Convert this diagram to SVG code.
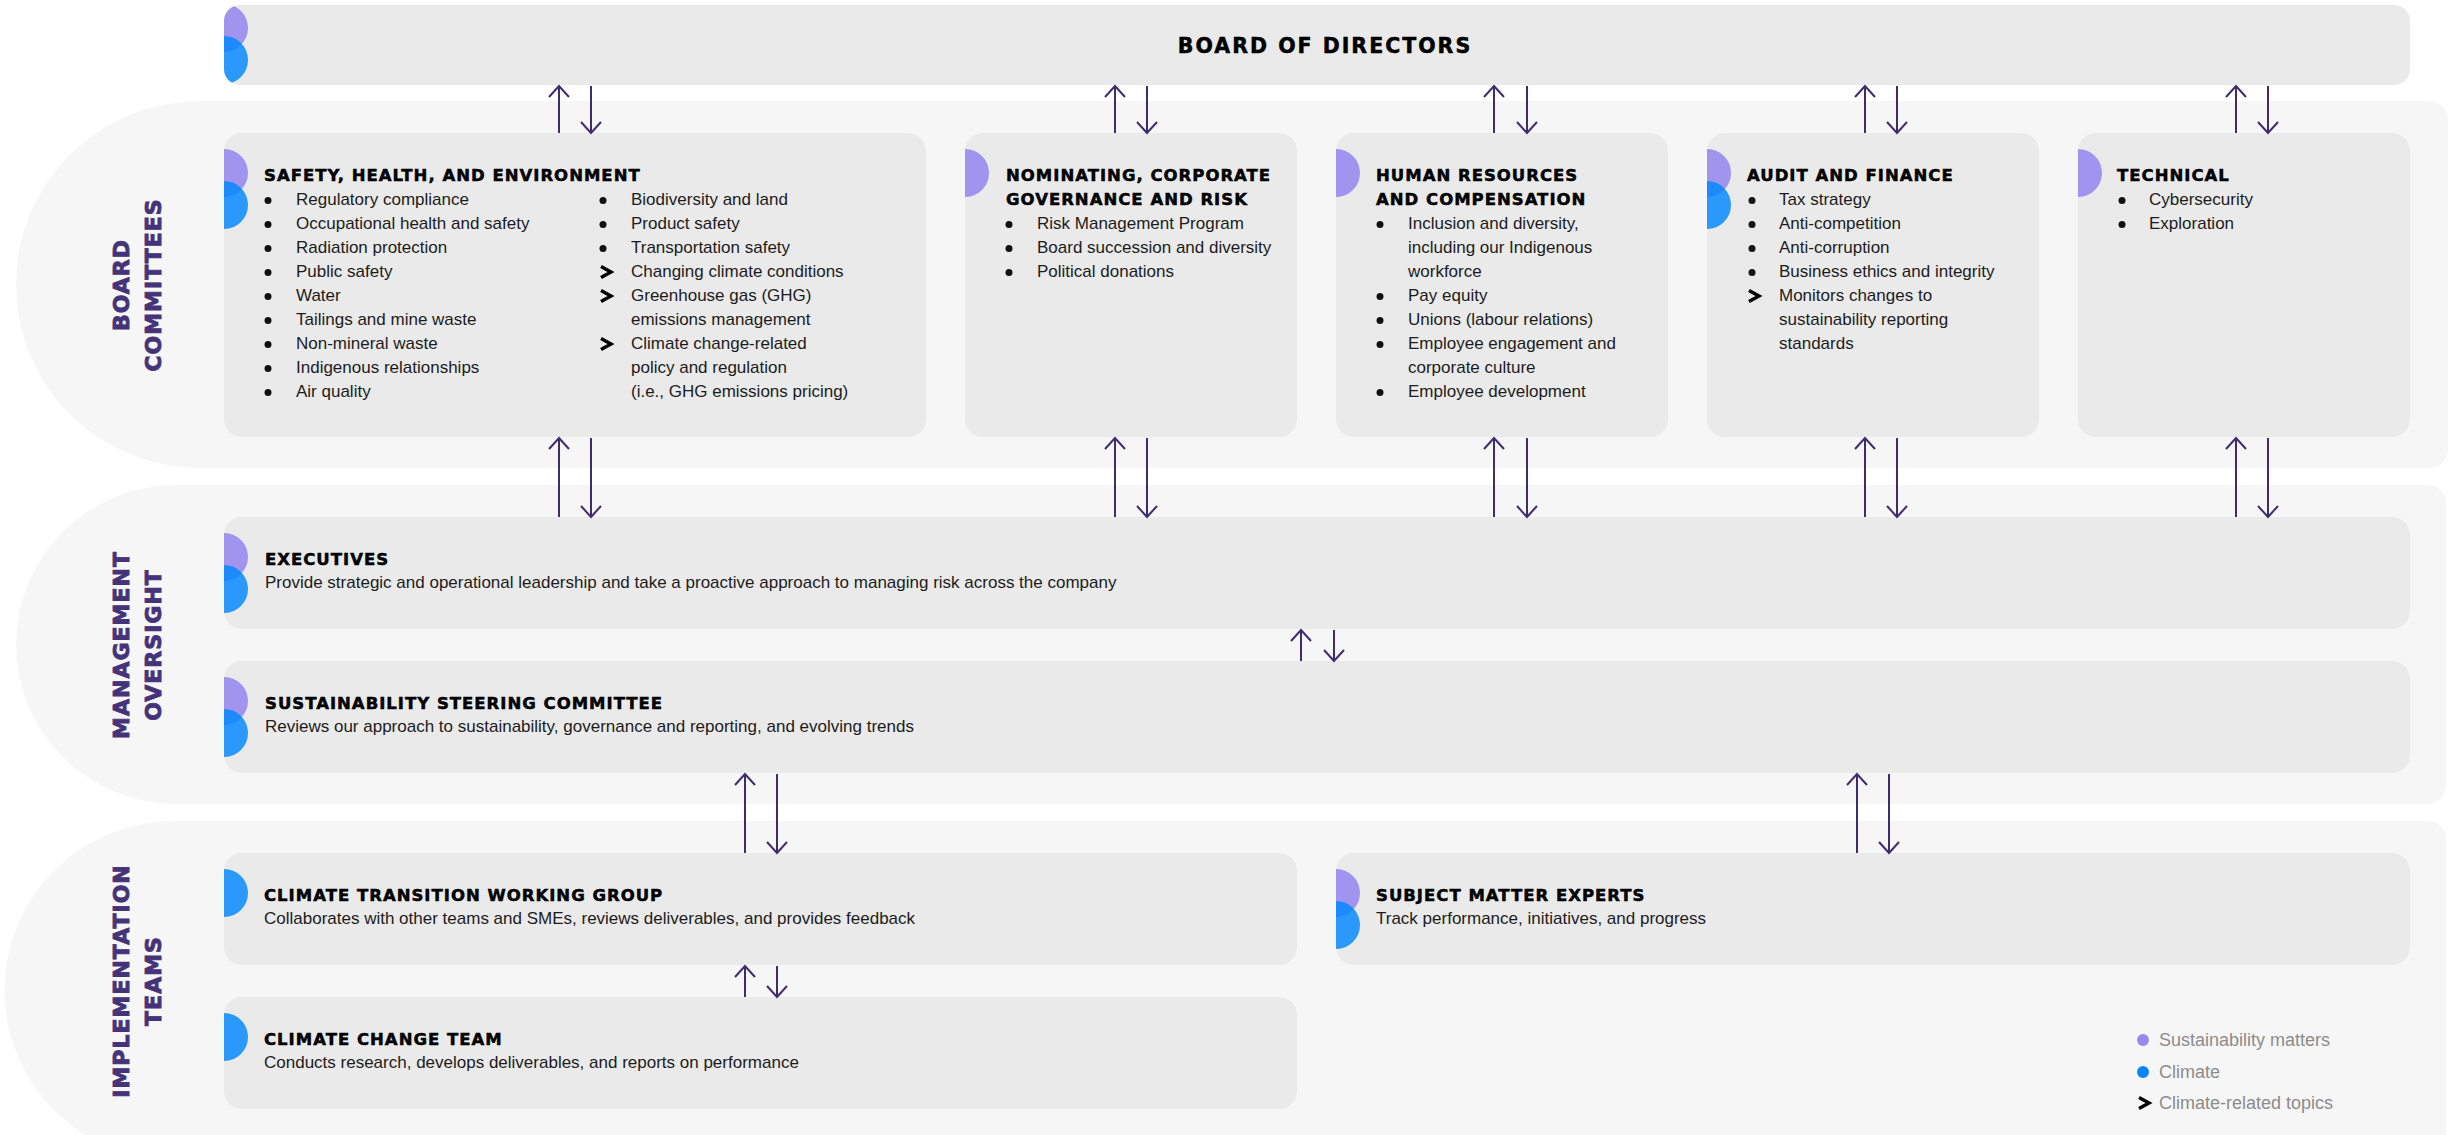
<svg xmlns="http://www.w3.org/2000/svg" xmlns:xlink="http://www.w3.org/1999/xlink" width="2460" height="1135" viewBox="0 0 2460 1135">
<style>
.band{fill:#f6f6f6}
.box{fill:#eaeaea}
.pur{fill:#a194ee}
.blu{fill:#0088ff;fill-opacity:0.82}
.ttl{font-family:"DejaVu Sans",sans-serif;font-weight:700;font-size:16.5px;letter-spacing:1px;fill:#000;stroke:#000;stroke-width:0.5}
.txt{font-family:"Liberation Sans",Arial,sans-serif;font-size:17px;fill:#1c1c1c}
.lbl{font-family:"DejaVu Sans",sans-serif;font-weight:700;font-size:22px;letter-spacing:1px;fill:#45337a;stroke:#45337a;stroke-width:0.9;text-anchor:middle}
.leg{font-family:"Liberation Sans",Arial,sans-serif;font-size:18px;fill:#8c8c8c}
.dot{fill:#111}
.con{stroke:#3e2c6e;stroke-width:2;fill:none}
</style>
<defs>
<marker id="ah" viewBox="-15 -15 30 30" markerWidth="30" markerHeight="30" refX="0" refY="0" orient="auto" markerUnits="userSpaceOnUse">
<path d="M-11,-10 L0,0 L-11,10" fill="none" stroke="#3e2c6e" stroke-width="2"/>
</marker>
<path id="chev" d="M-5,-5.5 L5,0 L-5,5.5" fill="none" stroke="#000" stroke-width="3.4" stroke-linejoin="miter"/>
<clipPath id="cpBoard"><rect x="224" y="5" width="2186" height="80" rx="16"/></clipPath>
</defs>
<rect width="2460" height="1135" fill="#fff"/>

<g id="bands">
<path class="band" d="M200,101 H2430 A18,18 0 0 1 2448,119 V450 A18,18 0 0 1 2430,468 H200 A184,183.5 0 0 1 200,101 Z"/>
<path class="band" d="M176,485 H2428 A18,18 0 0 1 2446,503 V786 A18,18 0 0 1 2428,804 H176 A160,159.5 0 0 1 176,485 Z"/>
<path class="band" d="M174,821 H2428 A18,18 0 0 1 2446,839 V1160 H174 A159,159 0 0 1 174,821 Z"/>
<text class="lbl" transform="translate(129,285) rotate(-90)">BOARD</text>
<text class="lbl" transform="translate(161,285) rotate(-90)">COMMITTEES</text>
<text class="lbl" transform="translate(129,645) rotate(-90)">MANAGEMENT</text>
<text class="lbl" transform="translate(161,645) rotate(-90)">OVERSIGHT</text>
<text class="lbl" transform="translate(129,981) rotate(-90)">IMPLEMENTATION</text>
<text class="lbl" transform="translate(161,981) rotate(-90)">TEAMS</text>
</g>

<g id="board">
<rect class="box" x="224" y="5" width="2186" height="80" rx="16"/>
<g clip-path="url(#cpBoard)">
<circle class="pur" cx="224" cy="28" r="24"/>
<circle class="blu" cx="224" cy="60" r="24"/>
</g>
<text class="ttl" x="1325" y="53" style="font-size:20.5px;letter-spacing:2px" text-anchor="middle">BOARD OF DIRECTORS</text>
</g>

<g id="she">
<rect class="box" x="224" y="133" width="702" height="304" rx="18"/>
<path class="pur" d="M224,149 A24,24 0 0 1 224,197 Z"/>
<path class="blu" d="M224,181 A24,24 0 0 1 224,229 Z"/>
<text class="ttl" x="264" y="181">SAFETY, HEALTH, AND ENVIRONMENT</text>
<g class="dot">
<circle cx="268" cy="200.5" r="3.5"/><circle cx="268" cy="224.5" r="3.5"/><circle cx="268" cy="248.5" r="3.5"/>
<circle cx="268" cy="272.5" r="3.5"/><circle cx="268" cy="296.5" r="3.5"/><circle cx="268" cy="320.5" r="3.5"/>
<circle cx="268" cy="344.5" r="3.5"/><circle cx="268" cy="368.5" r="3.5"/><circle cx="268" cy="392.5" r="3.5"/>
<circle cx="603" cy="200.5" r="3.5"/><circle cx="603" cy="224.5" r="3.5"/><circle cx="603" cy="248.5" r="3.5"/>
</g>
<use href="#chev" x="606" y="272"/>
<use href="#chev" x="606" y="296"/>
<use href="#chev" x="606" y="344"/>
<text class="txt" x="296">
<tspan x="296" y="205">Regulatory compliance</tspan>
<tspan x="296" y="229">Occupational health and safety</tspan>
<tspan x="296" y="253">Radiation protection</tspan>
<tspan x="296" y="277">Public safety</tspan>
<tspan x="296" y="301">Water</tspan>
<tspan x="296" y="325">Tailings and mine waste</tspan>
<tspan x="296" y="349">Non-mineral waste</tspan>
<tspan x="296" y="373">Indigenous relationships</tspan>
<tspan x="296" y="397">Air quality</tspan>
</text>
<text class="txt" x="631">
<tspan x="631" y="205">Biodiversity and land</tspan>
<tspan x="631" y="229">Product safety</tspan>
<tspan x="631" y="253">Transportation safety</tspan>
<tspan x="631" y="277">Changing climate conditions</tspan>
<tspan x="631" y="301">Greenhouse gas (GHG)</tspan>
<tspan x="631" y="325">emissions management</tspan>
<tspan x="631" y="349">Climate change-related</tspan>
<tspan x="631" y="373">policy and regulation</tspan>
<tspan x="631" y="397">(i.e., GHG emissions pricing)</tspan>
</text>
</g>

<g id="ncgr">
<rect class="box" x="965" y="133" width="332" height="304" rx="18"/>
<path class="pur" d="M965,149 A24,24 0 0 1 965,197 Z"/>
<text class="ttl"><tspan x="1006" y="181">NOMINATING, CORPORATE</tspan><tspan x="1006" y="205">GOVERNANCE AND RISK</tspan></text>
<g class="dot"><circle cx="1009" cy="224.5" r="3.5"/><circle cx="1009" cy="248.5" r="3.5"/><circle cx="1009" cy="272.5" r="3.5"/></g>
<text class="txt"><tspan x="1037" y="229">Risk Management Program</tspan><tspan x="1037" y="253">Board succession and diversity</tspan><tspan x="1037" y="277">Political donations</tspan></text>
</g>

<g id="hrc">
<rect class="box" x="1336" y="133" width="332" height="304" rx="18"/>
<path class="pur" d="M1336,149 A24,24 0 0 1 1336,197 Z"/>
<text class="ttl"><tspan x="1376" y="181">HUMAN RESOURCES</tspan><tspan x="1376" y="205">AND COMPENSATION</tspan></text>
<g class="dot"><circle cx="1380" cy="224.5" r="3.5"/><circle cx="1380" cy="296.5" r="3.5"/><circle cx="1380" cy="320.5" r="3.5"/><circle cx="1380" cy="344.5" r="3.5"/><circle cx="1380" cy="392.5" r="3.5"/></g>
<text class="txt">
<tspan x="1408" y="229">Inclusion and diversity,</tspan>
<tspan x="1408" y="253">including our Indigenous</tspan>
<tspan x="1408" y="277">workforce</tspan>
<tspan x="1408" y="301">Pay equity</tspan>
<tspan x="1408" y="325">Unions (labour relations)</tspan>
<tspan x="1408" y="349">Employee engagement and</tspan>
<tspan x="1408" y="373">corporate culture</tspan>
<tspan x="1408" y="397">Employee development</tspan>
</text>
</g>

<g id="audit">
<rect class="box" x="1707" y="133" width="332" height="304" rx="18"/>
<path class="pur" d="M1707,149 A24,24 0 0 1 1707,197 Z"/>
<path class="blu" d="M1707,181 A24,24 0 0 1 1707,229 Z"/>
<text class="ttl" x="1747" y="181">AUDIT AND FINANCE</text>
<g class="dot"><circle cx="1752" cy="200.5" r="3.5"/><circle cx="1752" cy="224.5" r="3.5"/><circle cx="1752" cy="248.5" r="3.5"/><circle cx="1752" cy="272.5" r="3.5"/></g>
<use href="#chev" x="1754" y="296"/>
<text class="txt">
<tspan x="1779" y="205">Tax strategy</tspan>
<tspan x="1779" y="229">Anti-competition</tspan>
<tspan x="1779" y="253">Anti-corruption</tspan>
<tspan x="1779" y="277">Business ethics and integrity</tspan>
<tspan x="1779" y="301">Monitors changes to</tspan>
<tspan x="1779" y="325">sustainability reporting</tspan>
<tspan x="1779" y="349">standards</tspan>
</text>
</g>

<g id="technical">
<rect class="box" x="2078" y="133" width="332" height="304" rx="18"/>
<path class="pur" d="M2078,149 A24,24 0 0 1 2078,197 Z"/>
<text class="ttl" x="2117" y="181">TECHNICAL</text>
<g class="dot"><circle cx="2122" cy="200.5" r="3.5"/><circle cx="2122" cy="224.5" r="3.5"/></g>
<text class="txt"><tspan x="2149" y="205">Cybersecurity</tspan><tspan x="2149" y="229">Exploration</tspan></text>
</g>

<g id="executives">
<rect class="box" x="224" y="517" width="2186" height="112" rx="18"/>
<path class="pur" d="M224,533 A24,24 0 0 1 224,581 Z"/>
<path class="blu" d="M224,565 A24,24 0 0 1 224,613 Z"/>
<text class="ttl" x="265" y="565">EXECUTIVES</text>
<text class="txt" x="265" y="588">Provide strategic and operational leadership and take a proactive approach to managing risk across the company</text>
</g>

<g id="ssc">
<rect class="box" x="224" y="661" width="2186" height="112" rx="18"/>
<path class="pur" d="M224,677 A24,24 0 0 1 224,725 Z"/>
<path class="blu" d="M224,709 A24,24 0 0 1 224,757 Z"/>
<text class="ttl" x="265" y="709">SUSTAINABILITY STEERING COMMITTEE</text>
<text class="txt" x="265" y="732">Reviews our approach to sustainability, governance and reporting, and evolving trends</text>
</g>

<g id="ctwg">
<rect class="box" x="224" y="853" width="1073" height="112" rx="18"/>
<path class="blu" d="M224,869 A24,24 0 0 1 224,917 Z"/>
<text class="ttl" x="264" y="901">CLIMATE TRANSITION WORKING GROUP</text>
<text class="txt" x="264" y="924">Collaborates with other teams and SMEs, reviews deliverables, and provides feedback</text>
</g>

<g id="sme">
<rect class="box" x="1336" y="853" width="1074" height="112" rx="18"/>
<path class="pur" d="M1336,869 A24,24 0 0 1 1336,917 Z"/>
<path class="blu" d="M1336,901 A24,24 0 0 1 1336,949 Z"/>
<text class="ttl" x="1376" y="901">SUBJECT MATTER EXPERTS</text>
<text class="txt" x="1376" y="924">Track performance, initiatives, and progress</text>
</g>

<g id="cct">
<rect class="box" x="224" y="997" width="1073" height="112" rx="18"/>
<path class="blu" d="M224,1013 A24,24 0 0 1 224,1061 Z"/>
<text class="ttl" x="264" y="1045">CLIMATE CHANGE TEAM</text>
<text class="txt" x="264" y="1068">Conducts research, develops deliverables, and reports on performance</text>
</g>

<g id="legend">
<circle cx="2143" cy="1040" r="6" fill="#9b87f0"/>
<circle cx="2143" cy="1072" r="6" fill="#0a84ff"/>
<use href="#chev" x="2144" y="1103"/>
<text class="leg" x="2159" y="1046">Sustainability matters</text>
<text class="leg" x="2159" y="1078">Climate</text>
<text class="leg" x="2159" y="1109">Climate-related topics</text>
</g>

<g id="connectors" class="con" marker-end="url(#ah)">
<line x1="559" y1="133" x2="559" y2="86"/><line x1="591" y1="86" x2="591" y2="133"/>
<line x1="1115" y1="133" x2="1115" y2="86"/><line x1="1147" y1="86" x2="1147" y2="133"/>
<line x1="1494" y1="133" x2="1494" y2="86"/><line x1="1527" y1="86" x2="1527" y2="133"/>
<line x1="1865" y1="133" x2="1865" y2="86"/><line x1="1897" y1="86" x2="1897" y2="133"/>
<line x1="2236" y1="133" x2="2236" y2="86"/><line x1="2268" y1="86" x2="2268" y2="133"/>
<line x1="559" y1="517" x2="559" y2="438"/><line x1="591" y1="438" x2="591" y2="517"/>
<line x1="1115" y1="517" x2="1115" y2="438"/><line x1="1147" y1="438" x2="1147" y2="517"/>
<line x1="1494" y1="517" x2="1494" y2="438"/><line x1="1527" y1="438" x2="1527" y2="517"/>
<line x1="1865" y1="517" x2="1865" y2="438"/><line x1="1897" y1="438" x2="1897" y2="517"/>
<line x1="2236" y1="517" x2="2236" y2="438"/><line x1="2268" y1="438" x2="2268" y2="517"/>
<line x1="1301" y1="661" x2="1301" y2="630"/><line x1="1334" y1="630" x2="1334" y2="661"/>
<line x1="745" y1="853" x2="745" y2="774"/><line x1="777" y1="774" x2="777" y2="853"/>
<line x1="1857" y1="853" x2="1857" y2="774"/><line x1="1889" y1="774" x2="1889" y2="853"/>
<line x1="745" y1="997" x2="745" y2="966"/><line x1="777" y1="966" x2="777" y2="997"/>
</g>
</svg>
